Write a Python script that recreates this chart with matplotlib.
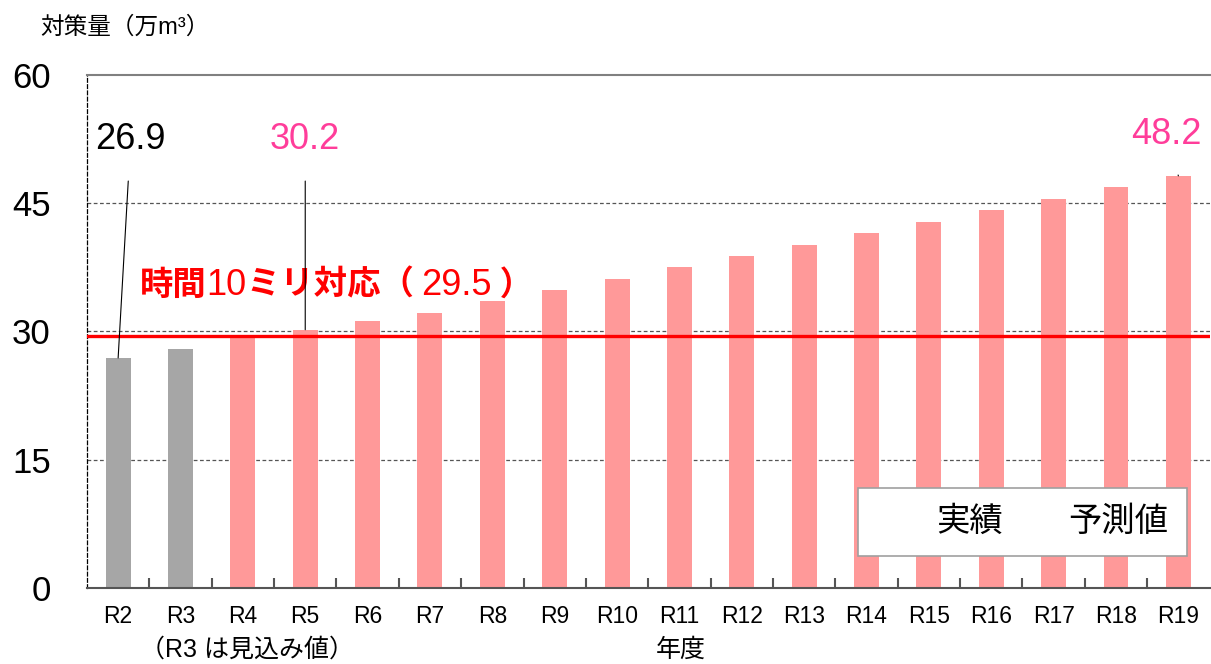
import numpy as np
import matplotlib.pyplot as plt
from matplotlib.patches import Patch

plt.rcParams['font.family'] = ['Liberation Sans', 'Noto Sans CJK JP', 'DejaVu Sans']

# data
years = ['R2', 'R3', 'R4', 'R5', 'R6', 'R7', 'R8', 'R9', 'R10',
         'R11', 'R12', 'R13', 'R14', 'R15', 'R16', 'R17', 'R18', 'R19']
values = [26.9, 28.0, 29.6, 30.2, 31.2, 32.2, 33.6, 34.9, 36.1,
          37.5, 38.8, 40.1, 41.5, 42.8, 44.2, 45.5, 46.9, 48.2]
n_actual = 2  # R2, R3 are actual values, the rest are forecasts
target = 29.5
yticks = [0, 15, 30, 45, 60]

gray = '#A6A6A6'
pink = '#FF9999'
magenta = '#FF3D9A'

fig = plt.figure(figsize=(12.11, 6.64), dpi=100)
ax = fig.add_axes([0.0718, 0.1145, 0.927, 0.7726])

x = np.arange(len(years))
colors = [gray if i < n_actual else pink for i in range(len(years))]
ax.bar(x, values, width=0.4, color=colors, zorder=2)

ax.set_xlim(-0.5, len(years) - 0.5)
ax.set_ylim(0, 60)
ax.set_yticks(yticks)
ax.set_yticklabels([str(v) for v in yticks], fontsize=25)
ax.tick_params(axis='y', length=0, pad=26)
ax.set_xticks(x)
ax.set_xticklabels(years, fontsize=16.5)
ax.tick_params(axis='x', length=0, pad=12)
ax.set_xticks(x[:-1] + 0.5, minor=True)
ax.tick_params(axis='x', which='minor', direction='in', length=7, width=1.5, color='#555555')

# grid + frame
for v in yticks[1:-1]:
    ax.axhline(v, color='#555555', lw=0.9, ls=(0, (3, 2)), zorder=1)
ax.spines['top'].set_color('#808080')
ax.spines['top'].set_linewidth(1.5)
ax.spines['right'].set_visible(False)
ax.spines['left'].set_linestyle((0, (3, 2)))
ax.spines['left'].set_linewidth(0.9)
ax.spines['bottom'].set_color('#555555')
ax.spines['bottom'].set_linewidth(1.5)

# target line
ax.axhline(target, color='red', lw=2.4, zorder=3)
t = ax.text(0.35, 35.4, '時間', color='red', fontsize=24, fontweight='bold',
            family=['Noto Sans CJK JP'], va='center')
parts = [('10', 'normal'), ('ミリ対応（ ', 'bold'), ('29.5', 'normal'), (' ）', 'bold')]
for s, w in parts:
    t = ax.annotate(s, xy=(1, 0.5), xycoords=t, va='center', color='red',
                    fontsize=24 if w == 'bold' else 26, fontweight=w,
                    family=['Liberation Sans', 'Noto Sans CJK JP'] if w == 'normal' else ['Noto Sans CJK JP'])

# value callouts
ax.annotate('26.9', xy=(0, values[0]), xytext=(0.2, 52.4), fontsize=26,
            ha='center', va='center', color='black',
            arrowprops=dict(arrowstyle='-', color='black', lw=0.8, shrinkA=15, shrinkB=0))
ax.annotate('30.2', xy=(3, values[3]), xytext=(3.0, 52.4), fontsize=26,
            ha='center', va='center', color=magenta,
            arrowprops=dict(arrowstyle='-', color='black', lw=0.8, shrinkA=15, shrinkB=0))
ax.annotate('48.2', xy=(17, values[17]), xytext=(16.8, 53.0), fontsize=26,
            ha='center', va='center', color=magenta,
            arrowprops=dict(arrowstyle='-', color='black', lw=0.8, shrinkA=15, shrinkB=0))

# legend (markers hidden as in the original)
handles = [Patch(facecolor='none', edgecolor='none'), Patch(facecolor='none', edgecolor='none')]
leg = ax.legend(handles, ['実績', '予測値'], ncol=2, loc='lower right',
                bbox_to_anchor=(0.9795, 0.0624), borderaxespad=0, fontsize=24,
                handlelength=1.3, handletextpad=0.5, columnspacing=0.15, borderpad=0.55,
                fancybox=False, framealpha=1, edgecolor='#A0A0A0')
leg.get_frame().set_linewidth(1.2)
leg.set_zorder(5)

# labels
fig.text(0.033, 0.959, '対策量（万m³）', fontsize=17, va='center', ha='left')
fig.text(0.562, 0.021, '年度', fontsize=18, ha='center', va='center')
fig.text(0.116, 0.021, '（R3 は見込み値）', fontsize=18, ha='left', va='center')

fig.savefig('out.png', dpi=100)
